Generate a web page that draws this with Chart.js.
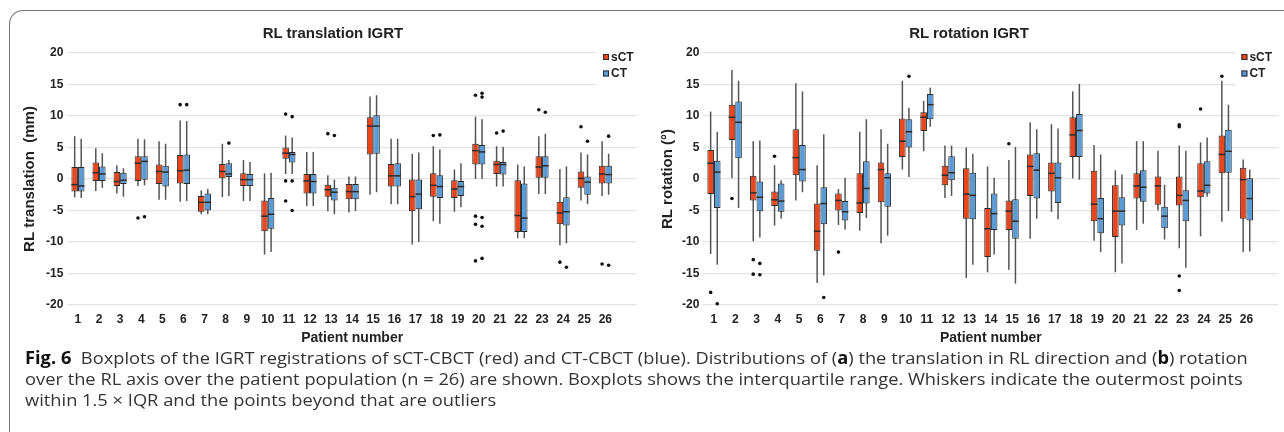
<!DOCTYPE html>
<html>
<head>
<meta charset="utf-8">
<script src="https://cdn.jsdelivr.net/npm/chart.js@4.4.0/dist/chart.umd.min.js"></script>
<style>
    body { margin: 0; width: 1284px; height: 432px; background: #fff; position: relative; overflow: hidden; font-family: 'Liberation Sans', Arial, sans-serif; }
    .frame { position: absolute; left: 9px; top: 10px; width: 1300px; height: 440px; border-top: 1.5px solid #777; border-left: 1.5px solid #777; border-top-left-radius: 14px; }
    canvas { position: absolute; top: 0; }
    #chartA { left: 0; }
    #chartB { left: 640px; }
    .title { position: absolute; top: 24px; font-weight: bold; font-size: 15px; color: #222; transform: translateX(-50%); white-space: nowrap; }
    .caption { position: absolute; left: 25px; top: 347px; font-family: 'Open Sans', sans-serif; font-size: 17px; line-height: 21px; color: #333; white-space: nowrap; transform-origin: 0 0; }
    .caption b { color: #111; }
</style>
</head>
<body>
<div class="frame"></div>
<canvas id="chartA" width="650" height="350"></canvas>
<canvas id="chartB" width="644" height="350"></canvas>
<div class="title" style="left:333px">RL translation IGRT</div>
<div class="title" style="left:969px">RL rotation IGRT</div>
<div class="caption" id="caption">
    <div id="capLine1"><b>Fig. 6</b>&nbsp; Boxplots of the IGRT registrations of sCT-CBCT (red) and CT-CBCT (blue). Distributions of (<b>a</b>) the translation in RL direction and (<b>b</b>) rotation</div>
    <div>over the RL axis over the patient population (n = 26) are shown. Boxplots shows the interquartile range. Whiskers indicate the outermost points</div>
    <div>within 1.5 × IQR and the points beyond that are outliers</div>
</div>
<script>
// Patients on the x axis
const patients = ['1','2','3','4','5','6','7','8','9','10','11','12','13','14','15','16','17','18','19','20','21','22','23','24','25','26'];
const yTicks = [-20, -15, -10, -5, 0, 5, 10, 15, 20];

// [whisker low, Q1, median, Q3, whisker high] per patient
const transSct = [
    [-2.9, -2.0, -0.9, 1.9, 6.8], [-1.9, -0.3, 1.0, 2.6, 4.9], [-2.3, -1.1, -0.4, 1.1, 2.2], [-1.1, -0.3, 2.5, 3.6, 6.4],
    [-3.3, -0.8, 1.2, 2.3, 6.0], [-3.6, -0.7, 1.3, 3.8, 9.3], [-5.6, -5.2, -3.7, -2.7, -1.8], [-2.9, 0.1, 1.2, 2.4, 5.6],
    [-3.5, -1.1, -0.1, 0.9, 3.0], [-12.0, -8.3, -5.9, -3.4, 0.9], [0.8, 3.2, 4.1, 5.0, 6.9], [-4.3, -2.3, -0.3, 0.8, 4.3],
    [-5.1, -2.8, -1.7, -0.9, 0.6], [-5.3, -3.2, -2.0, -0.8, 0.4], [-2.5, 3.9, 8.4, 9.8, 13.1], [-4.0, -1.2, 0.5, 2.4, 6.4],
    [-10.4, -5.1, -2.8, 0.0, 4.0], [-6.7, -2.8, -1.0, 0.9, 5.2], [-5.2, -3.0, -1.6, -0.2, 1.5], [0.0, 2.3, 4.5, 5.6, 9.9],
    [-1.2, 0.8, 2.3, 2.9, 5.2], [-9.4, -8.4, -5.8, -0.2, 2.3], [-2.4, 0.2, 1.9, 3.6, 6.8], [-10.5, -7.2, -5.4, -3.6, 1.6],
    [-3.4, -1.4, 0.1, 1.2, 4.2], [-2.7, -0.7, 0.8, 2.1, 6.0]
];
const transCt = [
    [-3.0, -2.0, -1.1, 1.9, 6.4], [-1.4, -0.3, 0.8, 2.0, 4.1], [-2.8, -0.8, -0.2, 1.0, 1.7], [-1.0, -0.1, 2.8, 3.6, 6.3],
    [-3.3, -1.2, 1.1, 2.1, 5.6], [-3.5, -0.8, 1.4, 3.9, 9.2], [-5.6, -5.0, -3.7, -2.3, -1.6], [-2.7, 0.3, 0.8, 2.5, 3.0],
    [-3.5, -1.1, -0.1, 0.8, 2.7], [-11.6, -7.9, -5.6, -3.0, 1.0], [0.8, 2.6, 3.9, 4.3, 6.6], [-4.3, -2.3, -0.4, 0.8, 4.3],
    [-5.6, -3.4, -2.1, -1.4, -0.1], [-5.1, -3.2, -2.0, -0.8, 0.4], [-2.1, 4.0, 8.4, 10.1, 13.3], [-4.0, -1.2, 0.5, 2.5, 6.4],
    [-10.0, -4.8, -2.4, 0.0, 4.2], [-7.1, -3.0, -1.2, 0.6, 4.7], [-4.5, -2.7, -1.2, -0.3, 2.5], [0.0, 2.3, 4.3, 5.4, 9.5],
    [-1.2, 0.7, 2.3, 2.7, 5.1], [-9.4, -8.4, -6.2, -0.7, 2.0], [-2.4, 0.2, 2.1, 3.6, 7.2], [-10.2, -7.4, -5.2, -2.9, 2.0],
    [-4.0, -2.5, -0.5, 0.4, 3.9], [-2.5, -0.7, 0.7, 2.1, 4.0]
];
const transSctOut = [[], [], [], [-6.2], [], [11.8], [], [], [], [], [10.3, -0.3, -3.5], [], [7.2], [], [], [], [], [6.9], [], [13.3, -5.9, -7.2, -13.0], [7.3], [], [11.0], [-13.2], [8.3], [-13.5]];
const transCtOut = [[], [], [], [-6.0], [], [11.8], [], [5.7], [], [], [9.9, -0.3, -5.0], [], [6.9], [], [], [], [], [7.0], [], [13.6, 13.0, -6.1, -7.5, -12.6], [7.6], [], [10.6], [-14.0], [6.0], [6.8, -13.7]];

const rotSct = [
    [-11.9, -2.4, 2.5, 4.6, 10.7], [0.1, 6.2, 9.8, 11.8, 17.3], [-9.9, -3.4, -2.2, 0.5, 6.0], [-7.4, -4.3, -3.3, -2.0, 2.2],
    [-3.4, 0.6, 3.4, 7.9, 15.2], [-16.5, -11.4, -8.3, -3.9, 2.2], [-7.3, -5.0, -3.4, -2.3, -1.6], [-8.2, -5.4, -3.8, 0.9, 7.5],
    [-10.2, -3.7, 1.5, 2.6, 7.9], [1.5, 3.5, 6.0, 9.6, 15.6], [4.4, 7.6, 9.8, 10.6, 12.4], [-3.0, -1.0, 0.6, 2.1, 5.3],
    [-15.7, -6.3, -2.4, 1.7, 5.0], [-14.8, -12.4, -7.9, -4.6, 2.0], [-14.4, -8.1, -5.1, -3.4, 3.0], [-9.5, -2.7, 2.0, 3.9, 9.0],
    [-5.2, -2.0, 0.9, 2.6, 8.7], [0.1, 3.5, 7.0, 9.8, 13.9], [-9.8, -6.7, -4.0, 1.3, 5.4], [-14.8, -9.2, -5.1, -1.0, 1.4],
    [-8.1, -3.1, -1.1, 0.9, 6.0], [-5.0, -4.1, -1.1, 0.4, 4.5], [-11.0, -4.2, -2.6, 0.4, 5.3], [-9.1, -2.9, -1.9, 2.5, 5.8],
    [-6.8, 0.9, 3.9, 6.9, 15.6], [-11.6, -6.3, -0.1, 1.8, 3.1]
];
const rotCt = [
    [-13.6, -4.6, 1.1, 2.9, 7.5], [-4.6, 3.3, 9.0, 12.3, 15.6], [-9.3, -5.1, -2.9, -0.4, 6.1], [-6.3, -5.2, -3.5, -0.7, -0.2],
    [-2.1, -0.4, 1.5, 5.4, 13.9], [-15.3, -7.2, -3.9, -1.3, 7.1], [-8.0, -6.6, -5.2, -3.5, 0.2], [-6.2, -3.9, -1.5, 2.8, 9.5],
    [-9.0, -4.4, 0.2, 0.9, 5.6], [0.3, 5.0, 7.5, 9.5, 11.3], [8.3, 9.5, 11.8, 13.5, 14.5], [-2.7, -0.2, 1.0, 3.6, 5.3],
    [-13.6, -6.4, -2.6, 1.0, 4.0], [-12.0, -8.1, -5.5, -2.3, 0.2], [-16.6, -9.5, -6.7, -3.2, 5.1], [-6.3, -3.1, 1.4, 4.1, 7.9],
    [-6.4, -3.8, 0.2, 2.6, 8.0], [-0.1, 3.5, 7.7, 10.3, 15.1], [-11.6, -8.6, -6.3, -3.0, 3.9], [-13.4, -7.4, -5.1, -2.9, 0.7],
    [-7.1, -3.6, -1.3, 1.4, 6.0], [-9.6, -7.8, -5.9, -4.4, -0.9], [-14.1, -6.7, -3.4, -1.8, 4.5], [-2.8, -2.3, -1.0, 2.8, 6.6],
    [-5.1, 1.0, 4.4, 7.8, 11.8], [-11.5, -6.6, -3.1, 0.1, 1.5]
];
const rotSctOut = [[-18.0], [-3.1], [-12.8, -15.1], [3.6], [], [], [-11.6], [], [], [], [], [], [], [], [5.6], [], [], [], [], [], [], [], [8.6, 8.3, -15.4, -17.7], [11.1], [16.3], []];
const rotCtOut = [[-19.8], [], [-13.4, -15.2], [], [], [-18.8], [], [], [], [16.3], [], [], [], [], [], [], [], [], [], [], [], [], [], [], [], []];

const RED = '#e8461e';
const BLUE = '#5b9bd5';
const EDGE = '#2b2b2b';
const TEXT = '#222';

// whiskers behind the boxes, medians + outliers + legend on top
const boxPlugin = {
    id: 'boxExtras',
    beforeDatasetsDraw(chart) {
        const ctx = chart.ctx;
        const y = chart.scales.y;
        ctx.save();
        ctx.strokeStyle = '#555';
        ctx.lineWidth = 1.5;
        chart.data.datasets.forEach((ds, di) => {
            chart.getDatasetMeta(di).data.forEach((bar, i) => {
                const s = ds.stats[i];
                ctx.beginPath();
                ctx.moveTo(bar.x, y.getPixelForValue(s[0]));
                ctx.lineTo(bar.x, y.getPixelForValue(s[4]));
                ctx.stroke();
            });
        });
        ctx.restore();
    },
    afterDatasetsDraw(chart) {
        const ctx = chart.ctx;
        const y = chart.scales.y;
        ctx.save();
        chart.data.datasets.forEach((ds, di) => {
            chart.getDatasetMeta(di).data.forEach((bar, i) => {
                const s = ds.stats[i];
                const half = bar.width / 2;
                ctx.strokeStyle = EDGE;
                ctx.lineWidth = 1.5;
                ctx.beginPath();
                ctx.moveTo(bar.x - half, y.getPixelForValue(s[2]));
                ctx.lineTo(bar.x + half, y.getPixelForValue(s[2]));
                ctx.stroke();
                ctx.fillStyle = '#111';
                ds.outliers[i].forEach(v => {
                    ctx.beginPath();
                    ctx.arc(bar.x, y.getPixelForValue(v), 1.8, 0, Math.PI * 2);
                    ctx.fill();
                });
            });
        });
        ctx.restore();
    },
    afterDraw(chart) {
        const ctx = chart.ctx;
        const area = chart.chartArea;
        const lx = area.right - chart.options.legendInset;
        ctx.save();
        ctx.fillStyle = '#fff';
        ctx.fillRect(lx - 6, 46, area.right - lx + 10, 44);
        ctx.font = 'bold 12px "Liberation Sans", Arial, sans-serif';
        ctx.textBaseline = 'middle';
        chart.data.datasets.forEach((ds, di) => {
            const cy = 57 + di * 16.5;
            ctx.fillStyle = ds.backgroundColor;
            ctx.fillRect(lx, cy - 3, 6, 6);
            ctx.strokeStyle = EDGE;
            ctx.lineWidth = 1;
            ctx.strokeRect(lx + 0.5, cy - 2.5, 5, 5);
            ctx.fillStyle = TEXT;
            ctx.fillText(ds.label, lx + 8, cy + 0.5);
        });
        ctx.restore();
    }
};

function boxChart(id, yTitle, sct, ct, sctOut, ctOut, pad, yWidth, yTitlePad, legendInset) {
    return new Chart(document.getElementById(id), {
        type: 'bar',
        data: {
            labels: [...patients, ''],
            datasets: [
                { label: 'sCT', data: sct.map(r => [r[1], r[3]]), stats: sct, outliers: sctOut, backgroundColor: RED },
                { label: 'CT', data: ct.map(r => [r[1], r[3]]), stats: ct, outliers: ctOut, backgroundColor: BLUE }
            ]
        },
        options: {
            responsive: false,
            animation: false,
            devicePixelRatio: 1,
            legendInset: legendInset,
            layout: { padding: { left: pad.left, right: pad.right, top: 53, bottom: 0 } },
            datasets: {
                bar: { borderColor: EDGE, borderWidth: 1, borderSkipped: false, categoryPercentage: 0.62, barPercentage: 1 }
            },
            scales: {
                x: {
                    grid: { display: false, drawTicks: false },
                    border: { display: false },
                    ticks: { autoSkip: false, maxRotation: 0, padding: 7, color: TEXT, font: { size: 12, weight: 'bold' } },
                    title: { display: true, text: 'Patient number', color: TEXT, font: { size: 14, weight: 'bold' }, padding: { top: 0, bottom: 3 } },
                    afterFit: s => { s.height = 45; }
                },
                y: {
                    min: -20,
                    max: 20,
                    afterBuildTicks: s => { s.ticks = yTicks.map(v => ({ value: v })); },
                    grid: { color: '#e4e4e4', lineWidth: 1.2, drawTicks: false },
                    border: { display: false },
                    ticks: { padding: 4, color: TEXT, font: { size: 12, weight: 'bold' } },
                    title: { display: true, text: yTitle, color: TEXT, font: { size: 15, weight: 'bold' }, padding: { top: yTitlePad, bottom: 0 } },
                    afterFit: s => { s.width = yWidth; }
                }
            },
            plugins: {
                legend: { display: false },
                tooltip: { enabled: false }
            }
        },
        plugins: [boxPlugin]
    });
}

Chart.defaults.font.family = "'Liberation Sans', Arial, sans-serif";

boxChart('chartA', 'RL translation  (mm)', transSct, transCt, transSctOut, transCtOut, { left: 10, right: 13 }, 57.4, 11, 34);
boxChart('chartB', 'RL rotation (°)', rotSct, rotCt, rotSctOut, rotCtOut, { left: 8, right: 5.6 }, 55.3, 11, 37);

// stretch caption so the first line spans like the original
const cap = document.getElementById('caption');
const w = document.getElementById('capLine1').scrollWidth;
cap.style.transform = 'scaleX(' + (1223 / w) + ')';
</script>
</body>
</html>
